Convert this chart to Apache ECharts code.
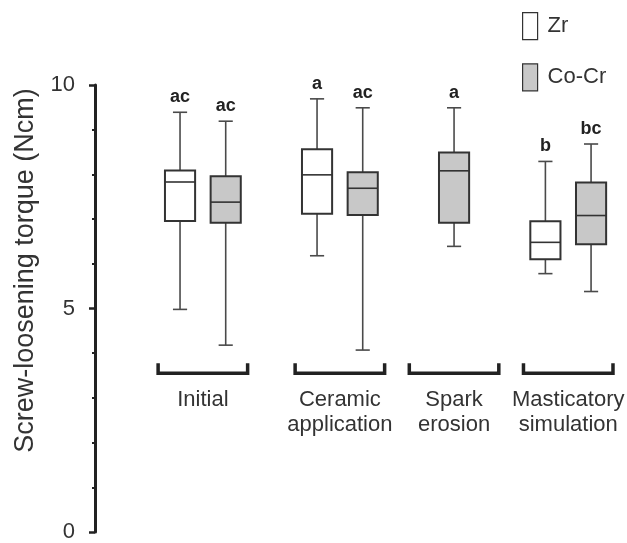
<!DOCTYPE html>
<html>
<head>
<meta charset="utf-8">
<script src="https://cdn.jsdelivr.net/npm/echarts@6/dist/echarts.min.js"></script>
<style>
  html, body { margin: 0; padding: 0; background: #fff; }
  #chart { width: 627px; height: 543px; }
</style>
</head>
<body>
<div id="chart"></div>
<script>
"use strict";

// group labels under the brackets, and the slots (x positions) each group covers
var groups = ["Initial", "Ceramic\napplication", "Spark\nerosion", "Masticatory\nsimulation"];
var groupSlots = [[0, 1], [3, 4], [6, 6], [8, 9]];

// boxes: [slot, min, Q1, median, Q3, max]
var zrBoxes = [
  [0, 4.98, 6.96, 7.83, 8.09, 9.39],
  [3, 6.18, 7.12, 7.99, 8.56, 9.69],
  [8, 5.78, 6.10, 6.48, 6.95, 8.29]
];
var zrLetters = ["ac", "a", "b"];

var coCrBoxes = [
  [1, 4.18, 6.92, 7.38, 7.96, 9.19],
  [4, 4.07, 7.09, 7.69, 8.05, 9.49],
  [6, 6.39, 6.92, 8.08, 8.49, 9.49],
  [9, 5.38, 6.44, 7.08, 7.82, 8.68]
];
var coCrLetters = ["ac", "ac", "a", "bc"];

var FONT = "'Liberation Sans', Arial, sans-serif";
var bracketLevel = 3.55;

// box with half-width whisker caps and a letter above
function boxRenderer(letters) {
  return function (params, api) {
    var x = api.value(0);
    var lo = api.coord([x, api.value(1)]);
    var q1 = api.coord([x, api.value(2)]);
    var med = api.coord([x, api.value(3)]);
    var q3 = api.coord([x, api.value(4)]);
    var hi = api.coord([x, api.value(5)]);
    var bw = api.size([1, 0])[0];
    var half = bw * 0.33;
    var cap = bw * 0.155;
    var cx = lo[0];
    var wStyle = { stroke: "#4a4a4a", lineWidth: 1.6 };
    return {
      type: "group",
      children: [
        { type: "line", shape: { x1: cx, y1: hi[1], x2: cx, y2: lo[1] }, style: wStyle },
        { type: "line", shape: { x1: cx - cap, y1: hi[1], x2: cx + cap, y2: hi[1] }, style: wStyle },
        { type: "line", shape: { x1: cx - cap, y1: lo[1], x2: cx + cap, y2: lo[1] }, style: wStyle },
        {
          type: "rect",
          shape: { x: cx - half, y: q3[1], width: half * 2, height: q1[1] - q3[1] },
          style: { fill: api.visual("color"), stroke: "#333", lineWidth: 2 }
        },
        { type: "line", shape: { x1: cx - half, y1: med[1], x2: cx + half, y2: med[1] }, style: { stroke: "#333", lineWidth: 1.6 } },
        {
          type: "text",
          x: cx,
          y: hi[1] - 6,
          style: { text: letters[params.dataIndex], align: "center", verticalAlign: "bottom", font: "bold 18px " + FONT, fill: "#222" }
        }
      ]
    };
  };
}

function bracketRenderer(params, api) {
  var a = api.coord([api.value(0), bracketLevel]);
  var b = api.coord([api.value(1), bracketLevel]);
  var bw = api.size([1, 0])[0];
  var mid = (a[0] + b[0]) / 2;
  var left = mid - bw * 0.98;
  var right = mid + bw * 0.98;
  var y = a[1];
  return {
    type: "group",
    children: [
      {
        type: "polyline",
        shape: { points: [[left, y - 10], [left, y], [right, y], [right, y - 10]] },
        style: { stroke: "#222", lineWidth: 3.5, fill: null }
      },
      {
        type: "text",
        x: mid,
        y: y + 14,
        style: { text: groups[params.dataIndex], align: "center", verticalAlign: "top", font: "22px " + FONT, fill: "#333", lineHeight: 25 }
      }
    ]
  };
}

var myChart = echarts.init(document.getElementById("chart"));
var option = {
  animation: false,
  backgroundColor: "#fff",
  grid: { left: 157.2, right: 13.1, top: 85, bottom: 3 },
  legend: {
    orient: "vertical",
    left: 517,
    top: 7,
    itemWidth: 15,
    itemHeight: 27,
    itemGap: 23,
    icon: "rect",
    textStyle: { fontFamily: FONT, fontSize: 22, color: "#333", padding: [0, 0, 0, 5] },
    data: [
      { name: "Zr", itemStyle: { color: "#fff", borderColor: "#333", borderWidth: 1.2 } },
      { name: "Co-Cr", itemStyle: { color: "#c8c8c8", borderColor: "#333", borderWidth: 1.2 } }
    ]
  },
  xAxis: {
    type: "value",
    min: -0.5,
    max: 9.5,
    show: false
  },
  yAxis: {
    type: "value",
    min: 0,
    max: 10,
    interval: 5,
    offset: 62.2,
    name: "Screw-loosening torque (Ncm)",
    nameLocation: "middle",
    nameGap: 56,
    nameTextStyle: { fontFamily: FONT, fontSize: 27, color: "#333", padding: [0, 0, 0, 76] },
    axisLine: { show: true, onZero: false, lineStyle: { color: "#222", width: 3 } },
    axisTick: { show: true, length: 6, lineStyle: { color: "#222", width: 2.5 } },
    minorTick: { show: true, splitNumber: 5, length: 3, lineStyle: { color: "#222", width: 2 } },
    axisLabel: { margin: 20, fontFamily: FONT, fontSize: 22, color: "#333" },
    splitLine: { show: false }
  },
  series: [
    {
      name: "Zr",
      type: "custom",
      renderItem: boxRenderer(zrLetters),
      itemStyle: { color: "#fff" },
      encode: { x: 0, y: [1, 2, 3, 4, 5] },
      data: zrBoxes
    },
    {
      name: "Co-Cr",
      type: "custom",
      renderItem: boxRenderer(coCrLetters),
      itemStyle: { color: "#c8c8c8" },
      encode: { x: 0, y: [1, 2, 3, 4, 5] },
      data: coCrBoxes
    },
    {
      name: "groups",
      type: "custom",
      renderItem: bracketRenderer,
      encode: { x: [0, 1] },
      data: groupSlots,
      silent: true
    }
  ]
};
myChart.setOption(option);
window.onresize = function () {
  myChart.resize();
};
</script>
</body>
</html>
